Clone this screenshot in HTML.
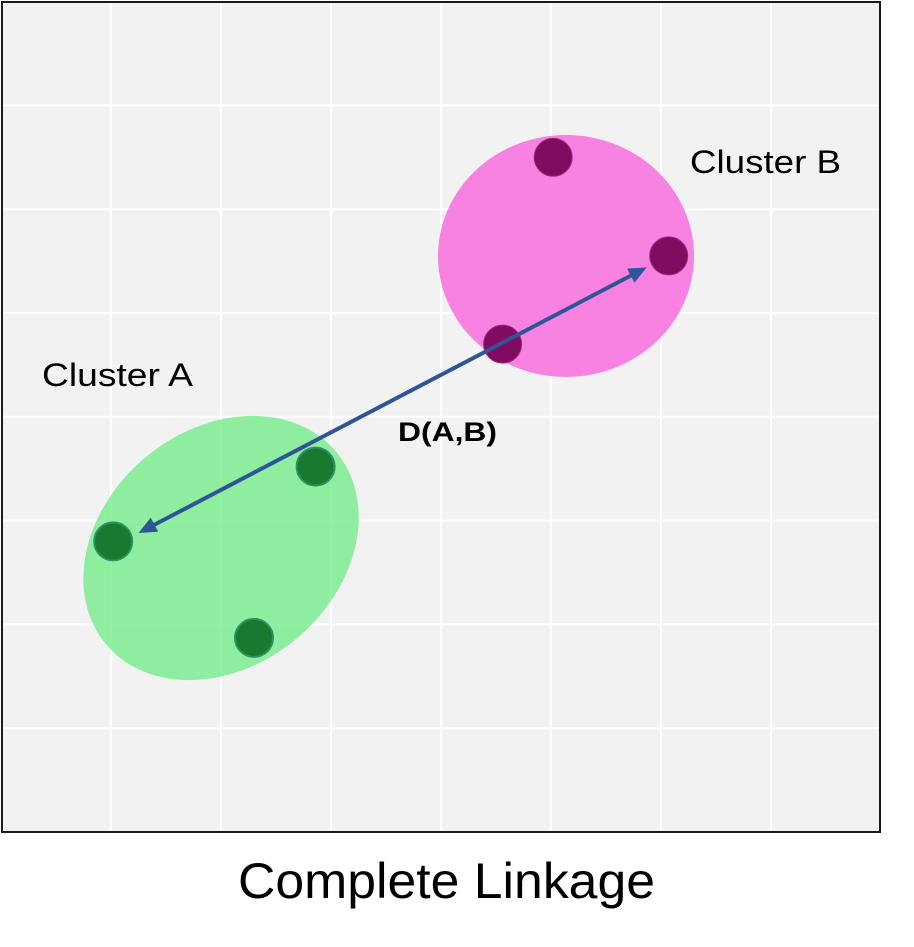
<!DOCTYPE html>
<html><head><meta charset="utf-8"><style>
html,body{margin:0;padding:0;background:#fff;width:914px;height:947px;overflow:hidden}
svg{display:block}
</style></head><body>
<svg id="chart" width="914" height="947" xmlns="http://www.w3.org/2000/svg">
<rect x="2" y="2" width="878" height="830" fill="#f2f2f2" stroke="#1a1a1a" stroke-width="2"/>
<g id="grid"></g>
<ellipse cx="221" cy="548" rx="150" ry="118" transform="rotate(-40 221 548)" fill="#7eec92" fill-opacity="0.85"/>
<ellipse cx="566" cy="256" rx="128" ry="121" fill="#f772df" fill-opacity="0.88"/>
<g id="pts"></g>
<g id="arrowg"></g>
<text x="42" y="386" font-family="Liberation Sans, sans-serif" font-size="32" textLength="151" lengthAdjust="spacingAndGlyphs" fill="#000">Cluster A</text>
<text x="690" y="173" font-family="Liberation Sans, sans-serif" font-size="32" textLength="151" lengthAdjust="spacingAndGlyphs" fill="#000">Cluster B</text>
<text x="398" y="441" font-family="Liberation Sans, sans-serif" font-size="27" font-weight="bold" textLength="99" lengthAdjust="spacingAndGlyphs" fill="#000">D(A,B)</text>
<text x="238" y="898" font-family="Liberation Sans, sans-serif" font-size="50" textLength="417" lengthAdjust="spacingAndGlyphs" fill="#000">Complete Linkage</text>
</svg>
<script>
const gridTicks = [1,2,3,4,5,6,7];
const clusterAX = [1.02, 2.86, 2.30];
const clusterAY = [2.80, 3.52, 1.87];
const clusterBX = [5.02, 6.07, 4.56];
const clusterBY = [6.50, 5.55, 4.70];
const arrowFrom = [1.25, 2.88];
const arrowTo = [5.87, 5.44];

const NS='http://www.w3.org/2000/svg';
const xs=v=>1+110*v;
const ys=v=>832-103.8*v;
function mk(t,a,p){const e=document.createElementNS(NS,t);for(const k in a)e.setAttribute(k,a[k]);p.appendChild(e);return e;}
const grid=document.getElementById('grid');
gridTicks.forEach(t=>{
  const v=mk('line',{x1:xs(t),x2:xs(t),y1:3,y2:831,stroke:'#fff','stroke-width':2},grid);
  
  
  const h=mk('line',{x1:3,x2:879,y1:ys(t),y2:ys(t),stroke:'#fff','stroke-width':2},grid);
  
  
});
const pts=document.getElementById('pts');
clusterAX.forEach((x,i)=>{
  const c=mk('circle',{cx:xs(x),cy:ys(clusterAY[i]),r:19,fill:'#177a2e',stroke:'#2e8f68','stroke-width':2},pts);
  
  
});
clusterBX.forEach((x,i)=>{
  const c=mk('circle',{cx:xs(x),cy:ys(clusterBY[i]),r:19,fill:'#820b62',stroke:'#9a2a7a','stroke-width':1},pts);
  
  
});
const ag=document.getElementById('arrowg');
const x1=xs(arrowFrom[0]),y1=ys(arrowFrom[1]),x2=xs(arrowTo[0]),y2=ys(arrowTo[1]);
const dx=x2-x1,dy=y2-y1,L=Math.hypot(dx,dy),ux=dx/L,uy=dy/L,hl=18,hw=8;
const ln=mk('line',{x1:x1+ux*hl*0.8,y1:y1+uy*hl*0.8,x2:x2-ux*hl*0.8,y2:y2-uy*hl*0.8,stroke:'#2f5597','stroke-width':4},ag);


function head(px,py,sx,sy){
  const bx=px+sx*hl,by=py+sy*hl;
  const p=mk('polygon',{points:`${px},${py} ${bx-sy*hw},${by+sx*hw} ${bx+sy*hw},${by-sx*hw}`,fill:'#2f5597'},ag);
  
  
}
head(x1,y1,ux,uy);
head(x2,y2,-ux,-uy);
</script>
</body></html>
